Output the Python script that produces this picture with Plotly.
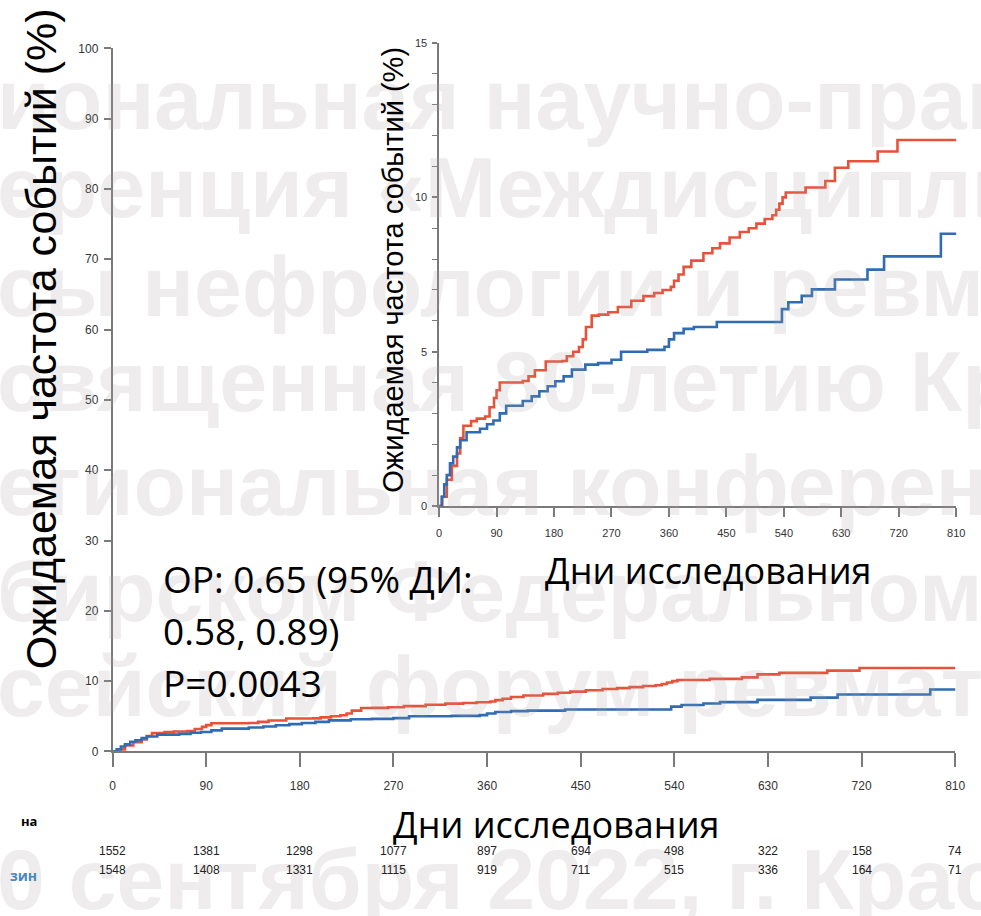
import plotly.graph_objects as go

W, H = 981, 916

# ---------------- data ----------------
red_days = [0, 5, 12, 20, 28, 33, 38, 50, 59, 72, 79, 86, 90, 95, 131, 140, 150, 167, 193, 200, 210,
            219, 225, 230, 239, 250, 265, 280, 301, 320, 337, 350, 363, 368, 375, 383, 395, 414, 428,
            440, 455, 471, 485, 497, 510, 522, 528, 533, 538, 543, 574, 605, 620, 641, 687, 718, 811]
red_vals = [0, 0.3, 0.85, 1.3, 1.7, 2.2, 2.6, 2.75, 2.83, 2.9, 3.2, 3.5, 3.75, 4.0, 4.05, 4.2, 4.4, 4.68,
            4.7, 4.85, 5.0, 5.15, 5.4, 5.8, 6.17, 6.2, 6.28, 6.45, 6.65, 6.8, 6.9, 7.0, 7.1, 7.3, 7.5,
            7.75, 7.95, 8.19, 8.35, 8.51, 8.7, 8.88, 9.0, 9.15, 9.3, 9.42, 9.6, 9.8, 10.0, 10.16,
            10.32, 10.53, 10.96, 11.17, 11.49, 11.86, 11.86]

blue_days = [0, 4, 8, 12, 17, 22, 28, 33, 43, 64, 75, 85, 95, 105, 131, 145, 157, 170, 182, 195, 208,
             229, 249, 270, 285, 326, 353, 360, 368, 383, 399, 435, 537, 547, 568, 584, 620, 671, 697,
             786, 811]
blue_vals = [0, 0.3, 0.7, 1.0, 1.38, 1.6, 1.9, 2.13, 2.39, 2.5, 2.65, 2.77, 3.0, 3.25, 3.4, 3.55, 3.72,
             3.88, 4.04, 4.2, 4.42, 4.58, 4.63, 4.74, 5.0, 5.06, 5.16, 5.4, 5.6, 5.74, 5.8, 5.96, 6.38,
             6.6, 6.81, 7.02, 7.34, 7.66, 8.09, 8.82, 8.82]

x_ticks = [0, 90, 180, 270, 360, 450, 540, 630, 720, 810]
main_y_ticks = [0, 10, 20, 30, 40, 50, 60, 70, 80, 90, 100]
inset_y_ticks = [0, 5, 10, 15]
at_risk_1 = [1552, 1381, 1298, 1077, 897, 694, 498, 322, 158, 74]
at_risk_2 = [1548, 1408, 1331, 1115, 919, 711, 515, 336, 164, 71]

y_title = "Ожидаемая частота событий (%)"
x_title = "Дни исследования"
stat_lines = ["ОР: 0.65 (95% ДИ:", "0.58, 0.89)", "P=0.0043"]
watermark = ["иональная научно-практическая",
             "еренция «Междисциплинарные",
             "сы нефрологии и ревматологии",
             "священная 80-летию Красноярского",
             "егиональная конференция",
             "бирском Федеральном университете",
             "сейский форум ревматологов",
             "0 сентября 2022, г. Красноярск"]

RED = "#e8523a"
BLUE = "#2f6cb3"
AX = "#7a7a7a"
TICKFONT = "Liberation Sans Narrow, Arial Narrow, Liberation Sans, Arial, sans-serif"


def px(x):
    return x / W


def py(y):
    return 1 - y / H


fig = go.Figure()
for xa, ya in [("x", "y"), ("x2", "y2")]:
    fig.add_trace(go.Scatter(x=red_days, y=red_vals, mode="lines", line=dict(color=RED, width=2.6, shape="hv"),
                             xaxis=xa, yaxis=ya, showlegend=False, hoverinfo="skip"))
    fig.add_trace(go.Scatter(x=blue_days, y=blue_vals, mode="lines", line=dict(color=BLUE, width=2.6, shape="hv"),
                             xaxis=xa, yaxis=ya, showlegend=False, hoverinfo="skip"))

common = dict(showgrid=False, zeroline=False, showline=True, linecolor=AX, linewidth=1.5,
              ticks="outside", tickcolor=AX, tickwidth=1.5, fixedrange=True,
              tickfont=dict(family=TICKFONT, size=12, color="#333"))

fig.update_layout(
    width=W, height=H,
    margin=dict(l=0, r=0, t=0, b=0),
    paper_bgcolor="white", plot_bgcolor="rgba(0,0,0,0)",
    xaxis=dict(domain=[px(111), px(965)], range=[0, 810], tickvals=x_ticks, ticklen=14,
               ticklabelstandoff=8, anchor="y", **common),
    yaxis=dict(domain=[py(756), py(42)], range=[0, 100], tickvals=main_y_ticks, ticklen=7,
               ticklabelstandoff=3, anchor="x", **common),
    xaxis2=dict(domain=[px(442), px(966)], range=[0, 810], tickvals=x_ticks, ticklen=9,
                ticklabelstandoff=7, anchor="y2", **common),
    yaxis2=dict(domain=[py(506.7), py(36.7)], range=[0, 15], tickvals=inset_y_ticks, ticklen=5,
                ticklabelstandoff=3, anchor="x2",
                minor=dict(dtick=1, ticklen=5, tickcolor=AX, tickwidth=1.2, ticks="outside"), **common),
)
fig.layout.xaxis2.tickfont.size = 11
fig.layout.yaxis2.tickfont.size = 11

ann = []
# watermark
wm_y = [93, 183, 283, 380, 485, 593, 690, 886]
for t, yy in zip(watermark, wm_y):
    ann.append(dict(text=t, x=px(-8), y=py(yy), xref="paper", yref="paper", xanchor="left", yanchor="middle",
                    showarrow=False, font=dict(family="Liberation Sans, Arial, sans-serif", size=86,
                                               weight="bold", color="rgba(170,158,158,0.2)")))

# titles
ann.append(dict(text=y_title, x=px(38), y=py(337), xref="paper", yref="paper", textangle=-90,
                xanchor="center", yanchor="middle",
                showarrow=False, font=dict(family="Liberation Sans, Arial, sans-serif", size=43, color="black")))
ann.append(dict(text=y_title, x=px(395), y=py(267), xref="paper", yref="paper", textangle=-90,
                xanchor="center", yanchor="middle",
                showarrow=False, font=dict(family="Liberation Sans, Arial, sans-serif", size=29, color="black")))
ann.append(dict(text=x_title, x=px(714), y=py(572), xref="paper", yref="paper", xanchor="center", yanchor="middle",
                showarrow=False, font=dict(family="Open Sans, sans-serif", size=36, color="black")))
ann.append(dict(text=x_title, x=px(560), y=py(830), xref="paper", yref="paper", xanchor="center", yanchor="middle",
                showarrow=False, font=dict(family="Open Sans, sans-serif", size=36, color="black")))
for t, yy in zip(stat_lines, [580, 633, 686]):
    ann.append(dict(text=t, x=px(160), y=py(yy), xref="paper", yref="paper", xanchor="left", yanchor="middle",
                    showarrow=False, font=dict(family="Open Sans, sans-serif", size=37, color="black")))

# number at risk
for row, yy in [(at_risk_1, 857), (at_risk_2, 876)]:
    for d, n in zip(x_ticks, row):
        ann.append(dict(text=str(n), x=d, y=py(yy), xref="x", yref="paper", xanchor="center", yanchor="middle",
                        showarrow=False, font=dict(family=TICKFONT, size=12, color="#222")))

# cut-off side labels
ann.append(dict(text="<b>на</b>", x=px(36), y=py(827), xref="paper", yref="paper", xanchor="right",
                yanchor="middle", showarrow=False, font=dict(family="Open Sans, sans-serif", size=13, color="black")))
ann.append(dict(text="<b>зин</b>", x=px(36), y=py(882), xref="paper", yref="paper", xanchor="right",
                yanchor="middle", showarrow=False, font=dict(family="Open Sans, sans-serif", size=14, color="#4a86c0")))

fig.update_layout(annotations=ann)
fig.write_html("out.html")
